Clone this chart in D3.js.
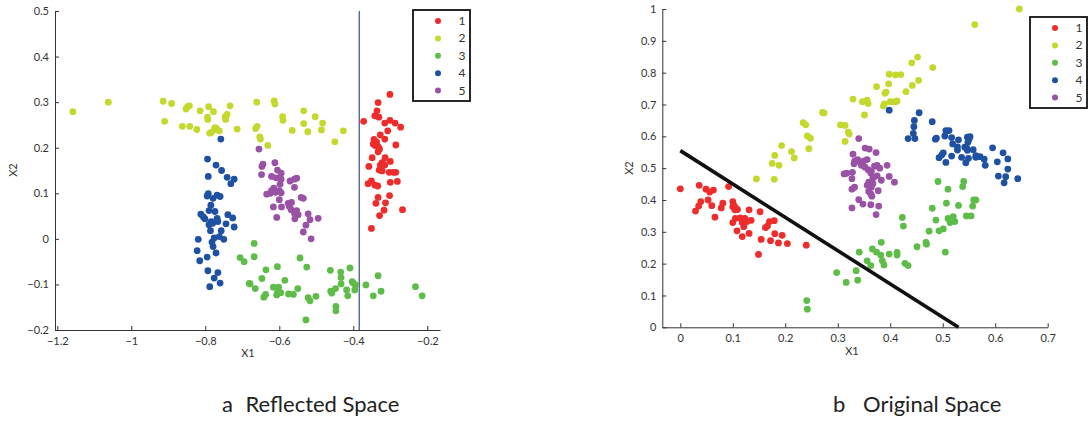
<!DOCTYPE html>
<html>
<head>
<meta charset="utf-8">
<script src="https://cdn.jsdelivr.net/npm/d3@7"></script>
<style>
  body { margin: 0; background: #fff; }
  text { font-family: Lato, "Open Sans", sans-serif; }
</style>
</head>
<body>
<svg id="chart" width="1092" height="423"></svg>
<script>
// ---- data: panel a (reflected space) ----
const leftC1 = [[-0.301,0.317],[-0.333,0.299],[-0.336,0.281],[-0.342,0.270],[-0.331,0.267],[-0.372,0.258],[-0.315,0.254],[-0.301,0.260],[-0.287,0.254],[-0.272,0.245],[-0.307,0.237],[-0.327,0.228],[-0.315,0.219],[-0.344,0.218],[-0.337,0.212],[-0.346,0.208],[-0.341,0.205],[-0.332,0.201],[-0.329,0.197],[-0.333,0.191],[-0.285,0.206],[-0.349,0.178],[-0.314,0.178],[-0.300,0.170],[-0.322,0.167],[-0.327,0.162],[-0.358,0.159],[-0.315,0.162],[-0.330,0.151],[-0.322,0.149],[-0.303,0.146],[-0.292,0.146],[-0.285,0.146],[-0.300,0.124],[-0.281,0.126],[-0.351,0.127],[-0.360,0.121],[-0.342,0.118],[-0.334,0.116],[-0.333,0.091],[-0.302,0.095],[-0.313,0.079],[-0.339,0.078],[-0.267,0.064],[-0.317,0.063],[-0.329,0.051],[-0.351,0.023]];
const leftC2 = [[-1.158,0.279],[-1.062,0.300],[-0.914,0.302],[-0.891,0.297],[-0.910,0.258],[-0.862,0.247],[-0.842,0.247],[-0.852,0.285],[-0.848,0.290],[-0.843,0.292],[-0.814,0.281],[-0.823,0.240],[-0.791,0.290],[-0.794,0.267],[-0.793,0.262],[-0.778,0.279],[-0.788,0.232],[-0.784,0.233],[-0.776,0.239],[-0.774,0.244],[-0.769,0.242],[-0.762,0.237],[-0.733,0.292],[-0.741,0.273],[-0.746,0.268],[-0.745,0.262],[-0.714,0.241],[-0.661,0.300],[-0.664,0.242],[-0.660,0.247],[-0.653,0.224],[-0.651,0.219],[-0.631,0.205],[-0.614,0.303],[-0.612,0.296],[-0.591,0.268],[-0.590,0.260],[-0.565,0.238],[-0.534,0.281],[-0.534,0.253],[-0.523,0.235],[-0.503,0.268],[-0.483,0.254],[-0.486,0.239],[-0.427,0.237],[-0.450,0.213]];
const leftC3 = [[-0.668,-0.010],[-0.668,-0.039],[-0.706,-0.041],[-0.695,-0.050],[-0.681,-0.098],[-0.679,-0.099],[-0.665,-0.109],[-0.647,-0.087],[-0.636,-0.068],[-0.637,-0.122],[-0.642,-0.128],[-0.605,-0.061],[-0.616,-0.106],[-0.602,-0.106],[-0.605,-0.118],[-0.607,-0.123],[-0.596,-0.118],[-0.585,-0.091],[-0.575,-0.121],[-0.562,-0.122],[-0.550,-0.109],[-0.544,-0.042],[-0.526,-0.062],[-0.522,-0.129],[-0.517,-0.136],[-0.501,-0.126],[-0.528,-0.178],[-0.462,-0.069],[-0.461,-0.115],[-0.458,-0.119],[-0.448,-0.109],[-0.447,-0.148],[-0.447,-0.158],[-0.434,-0.073],[-0.433,-0.085],[-0.433,-0.099],[-0.418,-0.112],[-0.415,-0.125],[-0.409,-0.064],[-0.403,-0.094],[-0.400,-0.097],[-0.396,-0.112],[-0.394,-0.101],[-0.366,-0.101],[-0.346,-0.125],[-0.333,-0.081],[-0.325,-0.115],[-0.232,-0.105],[-0.214,-0.125]];
const leftC4 = [[-0.758,0.219],[-0.794,0.175],[-0.771,0.162],[-0.756,0.150],[-0.792,0.137],[-0.741,0.135],[-0.722,0.131],[-0.731,0.121],[-0.792,0.099],[-0.795,0.094],[-0.768,0.096],[-0.760,0.093],[-0.779,0.089],[-0.785,0.074],[-0.790,0.062],[-0.774,0.060],[-0.812,0.054],[-0.805,0.048],[-0.801,0.044],[-0.739,0.053],[-0.726,0.046],[-0.768,0.045],[-0.784,0.038],[-0.766,0.038],[-0.790,0.031],[-0.780,0.034],[-0.744,0.033],[-0.722,0.026],[-0.757,0.018],[-0.786,0.018],[-0.776,0.002],[-0.762,0.005],[-0.750,-0.001],[-0.819,-0.001],[-0.782,-0.007],[-0.779,-0.017],[-0.822,-0.026],[-0.771,-0.031],[-0.795,-0.040],[-0.815,-0.048],[-0.793,-0.070],[-0.766,-0.074],[-0.776,-0.086],[-0.760,-0.097],[-0.788,-0.105]];
const leftC5 = [[-0.655,0.197],[-0.644,0.164],[-0.647,0.159],[-0.612,0.167],[-0.648,0.141],[-0.605,0.151],[-0.595,0.144],[-0.621,0.137],[-0.609,0.134],[-0.598,0.133],[-0.595,0.131],[-0.571,0.127],[-0.559,0.131],[-0.553,0.133],[-0.598,0.120],[-0.559,0.113],[-0.615,0.111],[-0.621,0.106],[-0.600,0.106],[-0.610,0.102],[-0.624,0.100],[-0.634,0.098],[-0.595,0.101],[-0.541,0.091],[-0.535,0.089],[-0.600,0.086],[-0.576,0.078],[-0.567,0.080],[-0.573,0.071],[-0.616,0.070],[-0.594,0.070],[-0.568,0.064],[-0.553,0.062],[-0.559,0.056],[-0.522,0.055],[-0.549,0.053],[-0.607,0.047],[-0.558,0.044],[-0.517,0.042],[-0.495,0.045],[-0.528,0.030],[-0.535,0.015],[-0.514,0.000]];
const leftCut = -0.384;

// ---- data: panel b (original space) ----
const rightC1 = [[0.000,0.435],[0.036,0.446],[0.049,0.434],[0.056,0.425],[0.063,0.431],[0.092,0.442],[0.053,0.400],[0.039,0.395],[0.035,0.381],[0.029,0.365],[0.060,0.382],[0.081,0.390],[0.078,0.375],[0.100,0.395],[0.102,0.384],[0.105,0.376],[0.104,0.369],[0.109,0.370],[0.100,0.379],[0.066,0.346],[0.131,0.369],[0.152,0.363],[0.105,0.342],[0.114,0.344],[0.123,0.342],[0.135,0.336],[0.100,0.329],[0.118,0.329],[0.121,0.316],[0.127,0.332],[0.170,0.332],[0.179,0.335],[0.166,0.318],[0.162,0.313],[0.108,0.303],[0.131,0.295],[0.118,0.285],[0.180,0.294],[0.194,0.289],[0.154,0.276],[0.172,0.272],[0.187,0.265],[0.204,0.263],[0.149,0.229],[0.240,0.258]];
const rightC2 = [[0.646,1.000],[0.561,0.951],[0.452,0.849],[0.441,0.831],[0.481,0.816],[0.454,0.776],[0.442,0.760],[0.398,0.795],[0.410,0.793],[0.420,0.794],[0.430,0.740],[0.411,0.710],[0.374,0.756],[0.397,0.765],[0.392,0.739],[0.390,0.735],[0.400,0.709],[0.408,0.708],[0.413,0.711],[0.389,0.702],[0.387,0.695],[0.347,0.709],[0.356,0.714],[0.358,0.703],[0.351,0.667],[0.329,0.717],[0.274,0.673],[0.271,0.675],[0.305,0.636],[0.314,0.634],[0.320,0.613],[0.322,0.607],[0.314,0.584],[0.234,0.643],[0.239,0.636],[0.242,0.601],[0.248,0.594],[0.245,0.561],[0.193,0.571],[0.212,0.552],[0.217,0.532],[0.180,0.540],[0.175,0.515],[0.188,0.509],[0.179,0.465],[0.145,0.466]];
const rightC3 = [[0.241,0.084],[0.242,0.057],[0.298,0.172],[0.316,0.141],[0.335,0.178],[0.338,0.148],[0.341,0.236],[0.356,0.209],[0.363,0.194],[0.366,0.246],[0.374,0.236],[0.382,0.227],[0.383,0.267],[0.385,0.209],[0.388,0.196],[0.398,0.230],[0.413,0.235],[0.413,0.227],[0.423,0.345],[0.425,0.318],[0.428,0.201],[0.434,0.194],[0.451,0.253],[0.468,0.267],[0.469,0.261],[0.474,0.302],[0.480,0.374],[0.487,0.337],[0.491,0.458],[0.493,0.303],[0.501,0.309],[0.505,0.236],[0.507,0.390],[0.510,0.434],[0.510,0.342],[0.514,0.329],[0.520,0.348],[0.523,0.332],[0.530,0.383],[0.538,0.442],[0.540,0.458],[0.545,0.350],[0.554,0.350],[0.557,0.381],[0.559,0.400],[0.563,0.400]];
const rightC4 = [[0.398,0.682],[0.455,0.674],[0.446,0.650],[0.480,0.646],[0.445,0.630],[0.444,0.609],[0.434,0.593],[0.447,0.593],[0.506,0.618],[0.512,0.618],[0.504,0.601],[0.488,0.594],[0.486,0.591],[0.517,0.596],[0.530,0.589],[0.519,0.576],[0.528,0.567],[0.528,0.557],[0.547,0.597],[0.552,0.599],[0.550,0.591],[0.548,0.581],[0.542,0.566],[0.546,0.562],[0.547,0.556],[0.558,0.558],[0.595,0.564],[0.615,0.548],[0.501,0.548],[0.498,0.541],[0.493,0.533],[0.517,0.538],[0.536,0.534],[0.549,0.531],[0.544,0.517],[0.563,0.539],[0.571,0.536],[0.563,0.534],[0.579,0.528],[0.581,0.509],[0.506,0.518],[0.604,0.520],[0.624,0.529],[0.624,0.497],[0.606,0.475],[0.620,0.473],[0.617,0.454],[0.643,0.467]];
const rightC5 = [[0.340,0.593],[0.329,0.544],[0.352,0.563],[0.360,0.560],[0.373,0.549],[0.332,0.522],[0.338,0.527],[0.331,0.514],[0.343,0.518],[0.350,0.523],[0.356,0.527],[0.345,0.509],[0.352,0.503],[0.358,0.495],[0.364,0.490],[0.370,0.506],[0.375,0.509],[0.380,0.500],[0.394,0.509],[0.312,0.482],[0.317,0.484],[0.328,0.487],[0.327,0.467],[0.363,0.485],[0.375,0.476],[0.367,0.469],[0.383,0.462],[0.398,0.474],[0.408,0.456],[0.359,0.456],[0.367,0.451],[0.356,0.446],[0.364,0.440],[0.332,0.440],[0.327,0.434],[0.359,0.427],[0.377,0.429],[0.363,0.419],[0.365,0.412],[0.340,0.401],[0.348,0.387],[0.363,0.385],[0.378,0.381],[0.327,0.375],[0.373,0.354]];
const rightCut = [[0, 0.555], [0.53, 0]];

const clusterNames = ["1", "2", "3", "4", "5"];
const clusterColors = ["#ee2c2c", "#c4d82e", "#5dbd48", "#1f51a2", "#9a52a6"];
const leftXTicks = [-1.2, -1, -0.8, -0.6, -0.4, -0.2];
const leftYTicks = [-0.2, -0.1, 0, 0.1, 0.2, 0.3, 0.4, 0.5];
const rightXTicks = [0, 0.1, 0.2, 0.3, 0.4, 0.5, 0.6, 0.7];
const rightYTicks = [0, 0.1, 0.2, 0.3, 0.4, 0.5, 0.6, 0.7, 0.8, 0.9, 1];

const svg = d3.select("#chart");
const fmt = d => String(+d.toFixed(1)).replace("-", "\u2212");

function drawPanel(opts) {
    const g = svg.append("g");
    const x = opts.x, y = opts.y;

    // axes, ticks pointing inward like matlab
    const xAxis = g.append("g")
        .attr("transform", "translate(0," + opts.y0 + ")")
        .call(d3.axisBottom(x).tickValues(opts.xTicks).tickFormat(fmt)
            .tickSizeInner(-4).tickSizeOuter(0).tickPadding(7));
    const yAxis = g.append("g")
        .attr("transform", "translate(" + opts.x0 + ",0)")
        .call(d3.axisLeft(y).tickValues(opts.yTicks).tickFormat(fmt)
            .tickSizeInner(-4).tickSizeOuter(0).tickPadding(6));
    [xAxis, yAxis].forEach(a => {
        a.selectAll("path, line").attr("stroke", "#333");
        a.selectAll("text").attr("fill", "#333").style("font-size", "11px");
    });

    // axis titles
    g.append("text").attr("x", opts.xLab[0]).attr("y", opts.xLab[1])
        .attr("text-anchor", "middle").style("font-size", "11px").attr("fill", "#333").text("X1");
    g.append("text").attr("transform", "translate(" + opts.yLab[0] + "," + opts.yLab[1] + ") rotate(-90)")
        .attr("text-anchor", "middle").style("font-size", "11px").attr("fill", "#333").text("X2");

    if (opts.extra) opts.extra(g, x, y);

    // points
    opts.series.forEach((s, i) => {
        g.append("g").selectAll("circle").data(s).join("circle")
            .attr("cx", d => x(d[0]))
            .attr("cy", d => y(d[1]))
            .attr("r", 3.4)
            .attr("fill", clusterColors[i]);
    });

    if (opts.extraTop) opts.extraTop(g, x, y);

    // legend
    const lg = g.append("g").attr("transform", "translate(" + opts.leg[0] + "," + opts.leg[1] + ")");
    lg.append("rect").attr("width", 57).attr("height", 91)
        .attr("fill", "#fff").attr("stroke", "#111").attr("stroke-width", 1.8);
    clusterNames.forEach((n, i) => {
        lg.append("circle").attr("cx", 25).attr("cy", 11 + i * 17.4).attr("r", 3)
            .attr("fill", clusterColors[i]);
        lg.append("text").attr("x", 49).attr("y", 15 + i * 17.4)
            .attr("text-anchor", "middle").style("font-size", "12px").attr("fill", "#333").text(n);
    });

    // caption
    g.append("text").attr("x", opts.cap[0]).attr("y", 412).style("font-size", "22px")
        .attr("fill", "#222").text(opts.capLetter);
    g.append("text").attr("x", opts.cap[1]).attr("y", 412).style("font-size", "22px")
        .attr("fill", "#222").text(opts.capText);
}

// panel a
const xL = d3.scaleLinear().domain([-1.2, -0.2]).range([57.3, 427.3]);
xL.domain([xL.invert(55), xL.invert(440)]).range([55, 440]);
const yL = d3.scaleLinear().domain([-0.2, 0.5]).range([330, 11]);

drawPanel({
    x: xL, y: yL, x0: 55, y0: 330,
    xTicks: leftXTicks, yTicks: leftYTicks,
    series: [leftC1, leftC2, leftC3, leftC4, leftC5],
    xLab: [248, 357], yLab: [17, 170],
    leg: [413, 10],
    cap: [222, 245.5], capLetter: "a", capText: "Reflected Space",
    extra: function (g, x, y) {
        g.append("line")
            .attr("x1", x(leftCut)).attr("x2", x(leftCut))
            .attr("y1", y(0.5)).attr("y2", y(-0.2))
            .attr("stroke", "#22407f").attr("stroke-width", 1.1);
    }
});

// panel b
const xR = d3.scaleLinear().domain([0, 0.7]).range([680.3, 1047.7]);
xR.domain([xR.invert(662.3), 0.7]).range([662.3, 1047.7]);
const yR = d3.scaleLinear().domain([0, 1]).range([327.3, 9]);

drawPanel({
    x: xR, y: yR, x0: 662.3, y0: 327.3,
    xTicks: rightXTicks, yTicks: rightYTicks,
    series: [rightC1, rightC2, rightC3, rightC4, rightC5],
    xLab: [852, 355], yLab: [633, 168],
    leg: [1030, 17],
    cap: [833, 863], capLetter: "b", capText: "Original Space",
    extraTop: function (g, x, y) {
        g.append("path").datum(rightCut)
            .attr("fill", "none").attr("stroke", "#111").attr("stroke-width", 3.6)
            .attr("d", d3.line().x(d => x(d[0])).y(d => y(d[1])));
    }
});
</script>
</body>
</html>
